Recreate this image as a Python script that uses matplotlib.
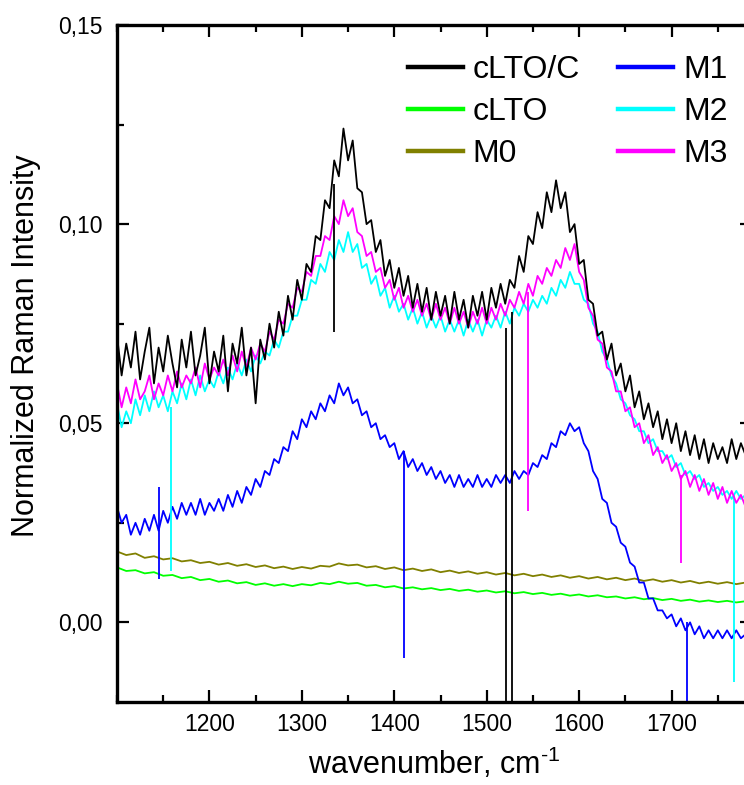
import numpy as np
import matplotlib
matplotlib.use('Agg')
import matplotlib.pyplot as plt
from matplotlib.lines import Line2D
from matplotlib.ticker import FixedLocator, MultipleLocator

plt.rcParams['font.family'] = ['Liberation Sans', 'DejaVu Sans']
plt.rcParams['mathtext.fontset'] = 'custom'
plt.rcParams['mathtext.rm'] = 'Liberation Sans'
plt.rcParams['mathtext.default'] = 'regular'

# wavenumber grid of the read-off points (cm-1)
wn = np.arange(1100, 1781, 5)
wn10 = np.arange(1100, 1781, 10)

# intensities, in units of 1e-3
cLTO_C = [72, 62, 70, 64, 73, 61, 68, 74, 60, 69, 63, 72, 65, 59, 71, 64, 73, 62, 67, 74,
          60, 68, 63, 72, 58, 70, 65, 74, 62, 69, 55, 71, 66, 75, 69, 78, 72, 82, 76, 86,
          81, 90, 88, 97, 96, 106, 104, 116, 112, 124, 116, 121, 109, 108, 100, 101, 93, 96, 87, 91,
          84, 89, 82, 87, 79, 85, 78, 84, 76, 83, 77, 82, 75, 83, 76, 81, 74, 82, 77, 83,
          76, 84, 79, 85, 80, 86, 84, 92, 88, 97, 95, 103, 99, 108, 103, 111, 104, 108, 98, 100,
          90, 91, 81, 80, 72, 73, 66, 70, 62, 65, 58, 62, 54, 58, 51, 55, 49, 53, 46, 51,
          45, 50, 43, 48, 42, 47, 41, 46, 40, 45, 41, 44, 40, 46, 41, 45, 42]
M3 = [60, 54, 59, 55, 61, 56, 58, 62, 56, 60, 57, 62, 58, 63, 59, 62, 60, 64, 59, 65,
      61, 64, 62, 66, 62, 67, 63, 68, 64, 69, 66, 70, 68, 73, 71, 76, 75, 80, 79, 84,
      83, 88, 87, 92, 92, 97, 96, 102, 100, 106, 102, 104, 98, 97, 92, 93, 88, 89, 84, 86,
      81, 84, 79, 82, 78, 81, 77, 80, 76, 80, 76, 79, 75, 79, 75, 78, 74, 78, 75, 79,
      75, 79, 76, 80, 77, 81, 79, 83, 80, 85, 82, 87, 85, 89, 87, 91, 89, 94, 91, 95,
      88, 86, 79, 77, 71, 70, 64, 63, 58, 58, 53, 54, 49, 50, 45, 47, 42, 44, 40, 42,
      38, 40, 36, 38, 34, 37, 33, 36, 32, 35, 31, 34, 30, 33, 30, 32, 29]
M2 = [55, 49, 53, 50, 56, 52, 57, 53, 58, 54, 57, 53, 58, 55, 60, 56, 61, 57, 62, 58,
      61, 59, 63, 60, 64, 61, 65, 62, 66, 63, 67, 65, 68, 67, 71, 69, 73, 73, 77, 77,
      81, 81, 86, 85, 90, 88, 93, 91, 96, 93, 98, 93, 95, 89, 90, 85, 87, 82, 84, 79,
      82, 78, 80, 76, 79, 75, 78, 74, 77, 74, 77, 73, 76, 73, 76, 72, 76, 73, 76, 72,
      76, 74, 77, 74, 78, 75, 79, 77, 80, 78, 81, 79, 82, 80, 84, 82, 86, 84, 88, 85,
      85, 81, 80, 75, 73, 68, 66, 62, 60, 56, 55, 52, 51, 48, 48, 45, 46, 43, 43, 41,
      42, 39, 40, 37, 38, 36, 37, 34, 35, 33, 34, 32, 33, 31, 33, 31, 32]
M1 = [29, 25, 27, 22, 25, 22, 26, 23, 27, 23, 28, 25, 29, 26, 30, 27, 30, 27, 31, 27,
      30, 28, 31, 28, 32, 29, 33, 30, 34, 32, 36, 34, 38, 37, 41, 40, 44, 43, 48, 46,
      51, 49, 53, 51, 55, 53, 57, 55, 60, 57, 59, 55, 56, 52, 53, 49, 50, 46, 47, 44,
      45, 41, 43, 39, 41, 38, 40, 37, 39, 36, 38, 35, 37, 34, 37, 34, 36, 34, 37, 34,
      36, 34, 37, 35, 37, 35, 38, 36, 38, 37, 40, 39, 42, 41, 45, 44, 48, 47, 50, 48,
      49, 45, 43, 38, 36, 31, 30, 25, 24, 20, 19, 15, 14, 10, 10, 6, 6, 3, 3, 1,
      2, -1, 1, -2, 0, -3, -1, -4, -2, -4, -2, -4, -2, -4, -2, -4, -3]
M0 = [17.8, 16.9, 17.3, 16.2, 16.6, 15.8, 16.1, 15.3, 15.6, 14.9, 15.2, 14.5, 14.9, 14.2,
      14.6, 13.9, 14.3, 13.6, 14.0, 13.4, 13.9, 13.5, 14.2, 14.0, 14.8, 14.3, 14.5, 13.8,
      14.1, 13.4, 13.8, 13.1, 13.5, 12.9, 13.3, 12.6, 13.0, 12.4, 12.8, 12.2, 12.6, 12.0,
      12.4, 11.8, 12.2, 11.6, 12.0, 11.4, 11.8, 11.2, 11.6, 11.0, 11.4, 10.8, 11.2, 10.6,
      11.0, 10.4, 10.8, 10.2, 10.6, 10.0, 10.4, 9.8, 10.2, 9.7, 10.1, 9.6, 10.0]
cLTO = [13.8, 12.9, 13.1, 12.3, 12.6, 11.7, 11.9, 11.1, 11.4, 10.6, 10.9, 10.2, 10.5, 9.8,
        10.1, 9.4, 9.8, 9.2, 9.6, 9.1, 9.6, 9.3, 9.9, 9.6, 10.2, 9.7, 9.9, 9.2,
        9.4, 8.8, 9.1, 8.5, 8.8, 8.3, 8.6, 8.1, 8.4, 7.9, 8.2, 7.7, 8.0, 7.5,
        7.8, 7.3, 7.6, 7.1, 7.4, 6.9, 7.2, 6.7, 7.0, 6.5, 6.8, 6.3, 6.5, 6.0,
        6.3, 5.8, 6.1, 5.6, 5.9, 5.4, 5.7, 5.2, 5.5, 5.1, 5.4, 5.0, 5.3]

# single-channel spikes: position, top, bottom (in units of 1e-3)
spikes = {
    'cLTO/C': ([1335, 1521, 1527], [110, 74, 78], [73, -30, -30]),
    'M3': ([1545, 1710], [83, 37], [28, 15]),
    'M2': ([1158, 1768], [54, 32], [13, -15]),
    'M1': ([1145, 1410, 1717], [34, 43, 0], [11, -9, -30]),
}

labels = ['cLTO/C', 'cLTO', 'M0', 'M1', 'M2', 'M3']
colors = {'cLTO/C': '#000000', 'cLTO': '#00ff00', 'M0': '#808000',
          'M1': '#0000ff', 'M2': '#00ffff', 'M3': '#ff00ff'}
series = {'cLTO/C': (wn, cLTO_C), 'cLTO': (wn10, cLTO), 'M0': (wn10, M0),
          'M1': (wn, M1), 'M2': (wn, M2), 'M3': (wn, M3)}
draw_order = ['cLTO', 'M0', 'M1', 'M2', 'M3', 'cLTO/C']

yticks = [0.0, 0.05, 0.10, 0.15]
ytick_labels = ['0,00', '0,05', '0,10', '0,15']
xticks = [1200, 1300, 1400, 1500, 1600, 1700]

fig = plt.figure(figsize=(7.44, 7.85), dpi=100)
# the right spine sits just outside the picture, as in the original
ax = fig.add_axes([117/744, 83/785, 635/744, 677/785])

for name in draw_order:
    x, y = series[name]
    ax.plot(x, np.array(y) / 1000, color=colors[name], lw=1.3)
    if name in spikes:
        sx, top, bot = spikes[name]
        ax.vlines(sx, np.array(bot) / 1000, np.array(top) / 1000, color=colors[name], lw=1.3)

ax.set_xlim(1100, 1787)
ax.set_ylim(-0.02, 0.15)

ax.xaxis.set_major_locator(FixedLocator(xticks))
ax.xaxis.set_minor_locator(MultipleLocator(50))
ax.yaxis.set_major_locator(FixedLocator(yticks))
ax.set_yticklabels(ytick_labels)
ax.yaxis.set_minor_locator(MultipleLocator(0.025))

ax.tick_params(which='both', direction='in', top=True, right=True, width=1.6)
ax.tick_params(which='major', length=8.5, labelsize=16.5)
ax.tick_params(which='minor', length=5)
ax.tick_params(axis='x', pad=8)
ax.tick_params(axis='y', pad=10)

for side in ['left', 'bottom', 'top', 'right']:
    ax.spines[side].set_linewidth(2.4)

ax.set_xlabel(r'wavenumber, cm$^{\text{-1}}$', fontsize=22, labelpad=7)
ax.set_ylabel('Normalized Raman Intensity', fontsize=22, labelpad=13, y=0.527)

handles = [Line2D([], [], color=colors[n], lw=3.2) for n in labels]
fig.legend(handles, labels, loc='upper left', bbox_to_anchor=(408/744, 1 - 55/785),
           ncol=2, frameon=False, fontsize=23, handlelength=1.72, handletextpad=0.31,
           columnspacing=1.19, labelspacing=0.38, borderpad=0, borderaxespad=0)

fig.savefig('out.png', dpi=100)
